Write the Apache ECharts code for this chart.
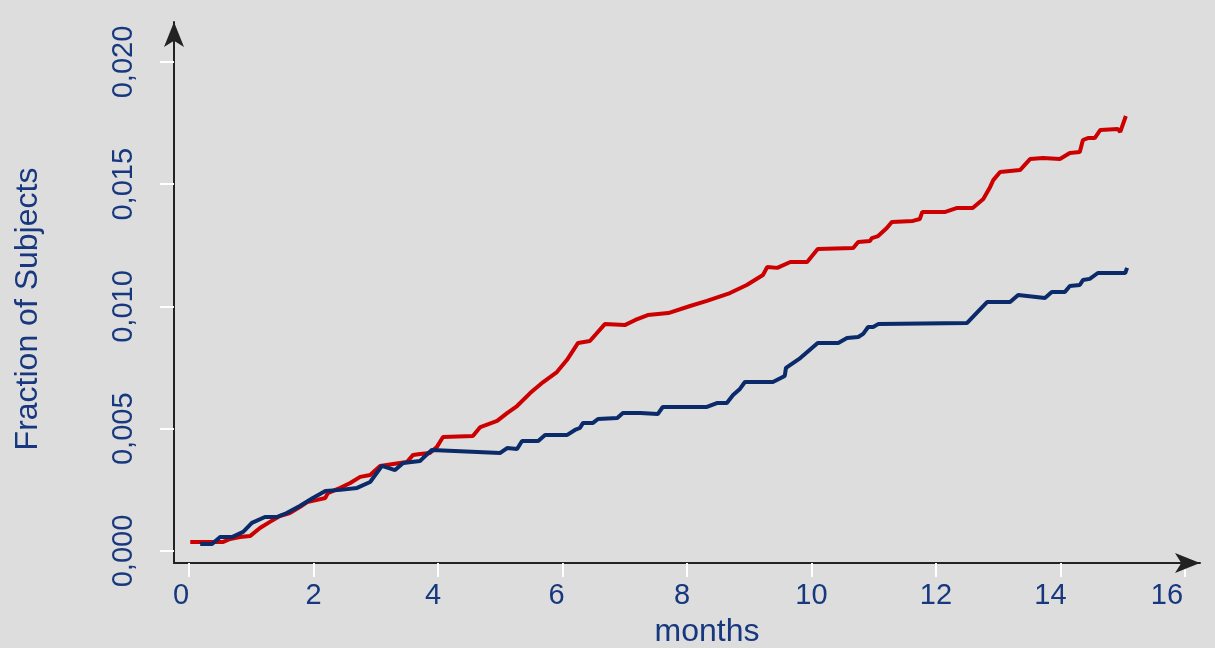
<!DOCTYPE html>
<html>
<head>
<meta charset="utf-8">
<script src="https://cdn.jsdelivr.net/npm/echarts@6/dist/echarts.min.js"></script>
<style>
html,body{margin:0;padding:0;background:#dddddd;}
#chart{width:1215px;height:648px;}
</style>
</head>
<body>
<div id="chart"></div>
<script>
// Tick labels
var xTicks = [0, 2, 4, 6, 8, 10, 12, 14, 16];
var yTicks = [0, 0.005, 0.010, 0.015, 0.020];

// Red series (months, fraction)
var redX = [0.02,0.55,0.66,0.82,0.98,1.14,1.30,1.46,1.62,1.78,1.90,2.06,2.19,2.23,2.43,2.59,2.75,2.91,3.07,3.28,3.50,3.60,3.71,3.87,3.98,4.08,4.56,4.68,4.95,5.11,5.27,5.48,5.69,5.91,6.07,6.25,6.44,6.68,7.00,7.17,7.37,7.70,8.05,8.32,8.69,8.96,9.22,9.29,9.45,9.66,9.93,10.10,10.67,10.75,10.94,10.97,11.07,11.21,11.29,11.63,11.74,11.78,12.15,12.34,12.59,12.76,12.87,12.92,13.03,13.35,13.51,13.72,13.99,14.15,14.31,14.36,14.44,14.55,14.64,14.92,14.96,15.05];
var redY = [0.00037,0.00037,0.00049,0.00057,0.00061,0.00094,0.00119,0.00143,0.00155,0.00180,0.00200,0.00209,0.00217,0.00237,0.00258,0.00278,0.00303,0.00311,0.00348,0.00356,0.00364,0.00393,0.00397,0.00401,0.00425,0.00466,0.00470,0.00507,0.00532,0.00564,0.00593,0.00646,0.00691,0.00732,0.00781,0.00851,0.00859,0.00928,0.00924,0.00945,0.00965,0.00973,0.01002,0.01023,0.01055,0.01088,0.01129,0.01162,0.01158,0.01182,0.01182,0.01235,0.01239,0.01264,0.01268,0.01280,0.01288,0.01321,0.01346,0.01350,0.01358,0.01387,0.01387,0.01403,0.01403,0.01440,0.01489,0.01517,0.01550,0.01558,0.01603,0.01607,0.01603,0.01628,0.01632,0.01681,0.01689,0.01689,0.01722,0.01726,0.01714,0.01779];

// Blue series (months, fraction)
var blueX = [0.18,0.37,0.50,0.69,0.87,1.01,1.22,1.41,1.57,1.78,1.99,2.19,2.43,2.70,2.91,3.10,3.31,3.44,3.71,3.76,3.90,5.00,5.11,5.27,5.35,5.61,5.72,6.07,6.20,6.28,6.33,6.49,6.57,6.88,6.97,7.25,7.53,7.61,8.32,8.48,8.64,8.74,8.85,8.93,9.38,9.57,9.59,9.82,10.10,10.43,10.57,10.75,10.83,10.91,10.99,11.07,12.50,12.82,13.19,13.32,13.75,13.86,14.07,14.15,14.31,14.36,14.47,14.60,15.04,15.07];
var blueY = [0.00029,0.00029,0.00057,0.00057,0.00078,0.00115,0.00139,0.00139,0.00155,0.00184,0.00217,0.00245,0.00250,0.00258,0.00282,0.00348,0.00331,0.00360,0.00368,0.00380,0.00413,0.00401,0.00421,0.00417,0.00450,0.00450,0.00474,0.00474,0.00495,0.00503,0.00524,0.00524,0.00540,0.00544,0.00564,0.00564,0.00560,0.00589,0.00589,0.00605,0.00605,0.00638,0.00663,0.00691,0.00691,0.00716,0.00749,0.00789,0.00851,0.00851,0.00871,0.00875,0.00888,0.00916,0.00916,0.00928,0.00933,0.01018,0.01018,0.01047,0.01035,0.01059,0.01059,0.01084,0.01088,0.01108,0.01113,0.01137,0.01137,0.01158];

function zip(a, b) { return a.map(function (v, i) { return [v, b[i]]; }); }

var labelColor = '#17387e';
var fontFam = '"Liberation Sans", Arial, sans-serif';

// small per-label horizontal nudges seen in the reference (label left of its tick)
var xLabelStyle = {fontSize: 29, color: labelColor, fontFamily: fontFam};
var xRich = {
  n0: Object.assign({padding: [0, 16, 0, 0]}, xLabelStyle),
  n5: Object.assign({padding: [0, 10, 0, 0]}, xLabelStyle),
  n6: Object.assign({padding: [0, 12, 0, 0]}, xLabelStyle),
  n10: Object.assign({padding: [0, 20, 0, 0]}, xLabelStyle),
  n18: Object.assign({padding: [0, 36, 0, 0]}, xLabelStyle),
  z: Object.assign({}, xLabelStyle)
};
var xNudge = {0: 'n0', 2: 'z', 4: 'n5', 6: 'n6', 8: 'n5', 10: 'z', 12: 'z', 14: 'n10', 16: 'n18'};

var chart = echarts.init(document.getElementById('chart'), null, {renderer: 'canvas'});
chart.setOption({
  backgroundColor: '#dddddd',
  animation: false,
  grid: {left: 174, right: 15, top: 22, bottom: 85, outerBoundsMode: 'none', containLabel: false},
  xAxis: {
    type: 'value',
    min: -0.241, max: 16.241,
    name: 'months',
    nameLocation: 'middle',
    nameGap: 53,
    nameTextStyle: {color: labelColor, fontSize: 32, fontFamily: fontFam, padding: [0, 0, 0, 40]},
    axisLine: {show: true, onZero: false, lineStyle: {color: '#222222', width: 2}, symbol: ['none', 'arrow'], symbolSize: [15, 25]},
    axisTick: {show: true, inside: false, length: 14, lineStyle: {color: '#ffffff', width: 2}, customValues: xTicks},
    axisLabel: {show: true, color: labelColor, fontSize: 29, fontFamily: fontFam, margin: 18, customValues: xTicks,
      rich: xRich,
      formatter: function (v) { var k = Math.round(v); return '{' + (xNudge[k] || 'z') + '|' + k + '}'; }},
    splitLine: {show: false}
  },
  yAxis: {
    type: 'value',
    min: -0.000491, max: 0.021636,
    name: 'Fraction of Subjects',
    nameLocation: 'middle',
    nameGap: 130,
    nameRotate: 90,
    nameTextStyle: {color: labelColor, fontSize: 32, fontFamily: fontFam, padding: [0, 33, 0, 0]},
    axisLine: {show: true, onZero: false, lineStyle: {color: '#222222', width: 2}, symbol: ['none', 'arrow'], symbolSize: [15, 25]},
    axisTick: {show: true, inside: false, length: 14, lineStyle: {color: '#ffffff', width: 2}, customValues: yTicks},
    axisLabel: {show: true, color: labelColor, fontSize: 29, fontFamily: fontFam, margin: 36, rotate: 90, customValues: yTicks,
      formatter: function (v) { return v.toFixed(3).replace('.', ','); }},
    splitLine: {show: false}
  },
  series: [
    {type: 'line', data: zip(redX, redY), showSymbol: false, symbol: 'none', lineStyle: {color: '#cc0000', width: 4}, itemStyle: {color: '#cc0000'}},
    {type: 'line', data: zip(blueX, blueY), showSymbol: false, symbol: 'none', lineStyle: {color: '#0a2a6a', width: 4}, itemStyle: {color: '#0a2a6a'}}
  ]
});
</script>
</body>
</html>
